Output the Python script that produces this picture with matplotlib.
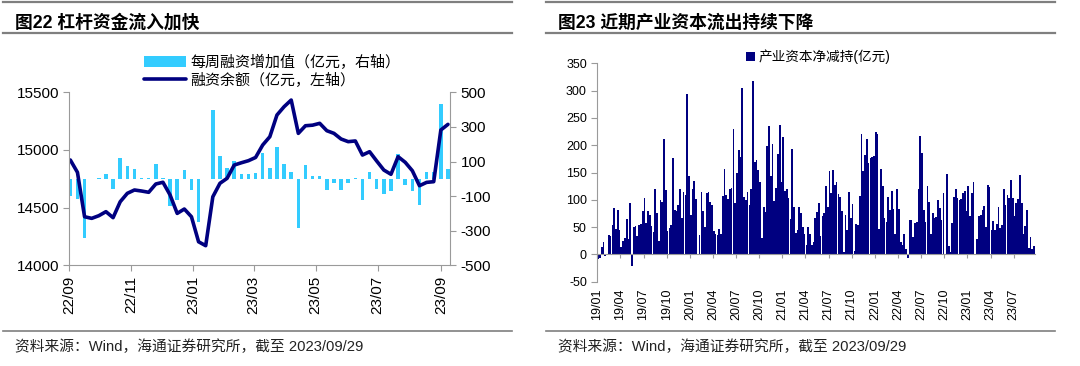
import matplotlib
matplotlib.use("Agg")
import matplotlib.pyplot as plt
import matplotlib.dates as mdates
from matplotlib.lines import Line2D
import numpy as np
import pandas as pd

plt.rcParams["font.family"] = ["Liberation Sans", "Noto Sans CJK SC", "DejaVu Sans"]
plt.rcParams["axes.unicode_minus"] = False

# ---- left chart: leverage funds (weekly) ----
lev_start = "2022-09-02"
lev_weekly_add = [-100, -115, -340, 0, 5, 30, -60, 123, 73, 58, 5, 5, 83, 5,
                  -158, -125, 50, -65, -248, 0, 400, 133, 65, 102, 25, 29,
                  33, 150, 65, 183, 87, 40, -287, 77, 17, 17, -65, -25, -63,
                  -25, 5, -125, 37, -58, -87, -71, 146, -33, -71, -152, 38,
                  40, 432, 54]
lev_balance = [14913, 14806, 14421, 14407, 14430, 14465, 14413, 14551, 14624,
               14653, 14644, 14633, 14705, 14720, 14610, 14450, 14488, 14421,
               14204, 14170, 14594, 14711, 14754, 14869, 14889, 14907, 14935,
               15043, 15115, 15303, 15375, 15433, 15144, 15210, 15215, 15231,
               15167, 15144, 15095, 15072, 15078, 14956, 14985, 14904, 14826,
               14789, 14942, 14893, 14820, 14690, 14719, 14725, 15173, 15222]

# ---- right chart: industrial capital net reduction (weekly) ----
ind_net_reduce = [
    -8, -6, 14, 23, -3, 0, 35, 34, 53, 85, 47, 82, 45, 14, 25, 30, 65, 28, 95, -22,
    50, 52, 34, 53, 55, 80, 103, 58, 80, 72, 52, 41, 120, 76, 24, 100, 96, 212, 118, 43,
    48, 53, 177, 82, 80, 90, 120, 67, 115, 109, 293, 143, 73, 120, 135, 102, 0, 35, 115, 80,
    50, 113, 115, 96, 90, 43, 37, 36, 47, 38, 107, 157, 108, 102, 120, 122, 230, 95, 149, 192,
    178, 305, 106, 100, 115, 90, 120, 318, 170, 173, 155, 132, 30, 87, 77, 198, 236, 143, 203, 98,
    121, 183, 237, 133, 215, 117, 120, 104, 64, 193, 87, 39, 45, 87, 76, 50, 37, 17, 50, 38,
    17, 23, 67, 77, 95, 33, 71, 76, 126, 86, 153, 112, 155, 128, 132, 110, 105, 79, 4, 73,
    45, 115, 67, 93, 7, 56, 54, 107, 220, 153, 182, 212, 167, 177, 179, 180, 225, 220, 46, 157,
    126, 67, 60, 105, 82, 117, 84, 37, 120, 83, 22, 18, 37, 10, -7, 63, 63, 32, 57, 60,
    120, 216, 186, 82, 60, 125, 96, 37, 76, 66, 68, 100, 85, 63, 112, 0, 147, 15, 5, 58,
    105, 119, 103, 100, 102, 113, 116, 80, 126, 71, 112, 133, 0, 29, 70, 72, 81, 88, 50, 127,
    123, 45, 62, 45, 55, 86, 48, 54, 119, 91, 108, 103, 137, 104, 71, 95, 101, 145, 94, 38,
    52, 81, 11, 31, 10, 16]
ind_tick_labels = ["19/01", "19/04", "19/07", "19/10", "20/01", "20/04", "20/07",
                   "20/10", "21/01", "21/04", "21/07", "21/10", "22/01", "22/04",
                   "22/07", "22/10", "23/01", "23/04", "23/07"]

NAVY = "#000080"
CYAN = "#33CCFF"
GREY = "#9a9a9a"
HDR = "#7f7f7f"

fig = plt.figure(figsize=(10.8, 3.66), dpi=100)


def hline(x0, x1, y, lw=1.6):
    fig.add_artist(Line2D([x0 / 1080, x1 / 1080], [1 - y / 366, 1 - y / 366],
                          color=HDR, lw=lw, transform=fig.transFigure))


# headers / footers
for x0, x1 in [(3, 512), (546, 1055)]:
    hline(x0, x1, 2)
    hline(x0, x1, 33)
    hline(x0, x1, 331, lw=1.2)
fig.text(15 / 1080, 1 - 23 / 366, "图22 杠杆资金流入加快", fontsize=12.8,
         fontweight="bold", va="center", ha="left")
fig.text(558 / 1080, 1 - 23 / 366, "图23 近期产业资本流出持续下降", fontsize=12.8,
         fontweight="bold", va="center", ha="left")
src = "资料来源：Wind，海通证券研究所，截至 2023/09/29"
fig.text(15 / 1080, 1 - 347 / 366, src, fontsize=10.6, va="center", ha="left", color="#222222")
fig.text(558 / 1080, 1 - 347 / 366, src, fontsize=10.6, va="center", ha="left", color="#222222")

# ---- left chart ----
dates = pd.date_range(lev_start, periods=len(lev_balance), freq="7D")
ax1 = fig.add_axes([69.3 / 1080, 1 - 265.3 / 366, (450 - 69.3) / 1080, (265.3 - 92.3) / 366])
ax2 = ax1.twinx()
bars = ax2.bar(dates, lev_weekly_add, width=3.4, color=CYAN, label="每周融资增加值（亿元，右轴）")
line, = ax1.plot(dates, lev_balance, color=NAVY, lw=2.6, solid_capstyle="round",
                 solid_joinstyle="round", label="融资余额（亿元，左轴）")
ax1.set_zorder(ax2.get_zorder() + 1)
ax1.patch.set_visible(False)

ax1.set_ylim(14000, 15500)
ax1.set_yticks([14000, 14500, 15000, 15500])
ax2.set_ylim(-500, 500)
ax2.set_yticks([-500, -300, -100, 100, 300, 500])
ax1.set_xlim(pd.Timestamp("2022-09-01"), pd.Timestamp("2023-09-10"))
ax1.xaxis.set_major_locator(mdates.MonthLocator(bymonth=[1, 3, 5, 7, 9, 11]))
ax1.xaxis.set_major_formatter(mdates.DateFormatter("%y/%m"))
for lab in ax1.get_xticklabels():
    lab.set_rotation(90)
for a in (ax1, ax2):
    a.spines["top"].set_visible(False)
    for s in ("left", "right", "bottom"):
        a.spines[s].set_color(GREY)
    a.tick_params(colors=GREY, labelcolor="black", labelsize=11, length=4, width=0.8)
ax2.spines["left"].set_visible(False)
ax2.spines["bottom"].set_visible(False)
ax1.spines["right"].set_visible(False)

fig.legend(handles=[bars, line], loc="center left", bbox_to_anchor=(136 / 1080, 1 - 71 / 366),
           bbox_transform=fig.transFigure, frameon=False, fontsize=10.8,
           handlelength=2.8, handleheight=0.7, labelspacing=0.2, borderpad=0,
           handletextpad=0.3)

# ---- right chart ----
ax3 = fig.add_axes([597.3 / 1080, 1 - 281.7 / 366, (1035 - 597.3) / 1080, (281.7 - 63.3) / 366])
idx = np.arange(len(ind_net_reduce))
ax3.bar(idx, ind_net_reduce, width=0.95, color=NAVY, linewidth=0, label="产业资本净减持(亿元)")
ax3.set_xlim(-0.5, len(ind_net_reduce) - 0.5)
ax3.set_ylim(-50, 350)
ax3.set_yticks(range(-50, 351, 50))
tick_pos = [-0.5 + 13 * k for k in range(len(ind_tick_labels))]
ax3.set_xticks(tick_pos)
ax3.tick_params(axis="x", labelbottom=False, colors=GREY, length=3, width=0.8)
ax3.tick_params(axis="y", colors=GREY, labelcolor="black", labelsize=9, length=4, width=0.8)
ax3.spines["bottom"].set_position(("data", 0))
ax3.spines["bottom"].set_color(GREY)
ax3.spines["left"].set_color(GREY)
ax3.spines["top"].set_visible(False)
ax3.spines["right"].set_visible(False)
sec = ax3.secondary_xaxis(0.0)
sec.set_xticks(tick_pos, ind_tick_labels, rotation=90)
sec.tick_params(length=0, labelsize=9, pad=5)
sec.spines["bottom"].set_visible(False)
ax3.legend(loc="center", bbox_to_anchor=(818 / 1080, 1 - 57 / 366),
           bbox_transform=fig.transFigure, frameon=False, fontsize=9.8,
           handlelength=0.7, handleheight=0.7, handletextpad=0.2, borderpad=0)

fig.savefig("out.png", dpi=100)
